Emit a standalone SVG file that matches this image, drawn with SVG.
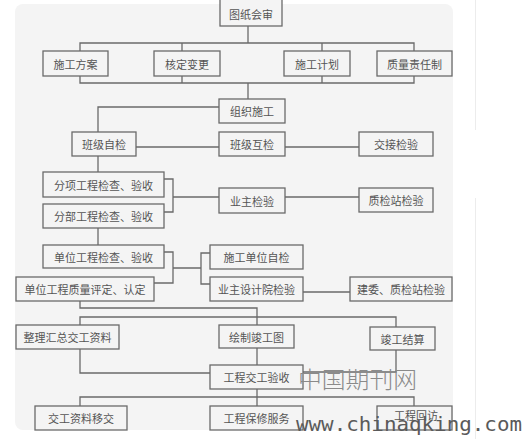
<svg xmlns="http://www.w3.org/2000/svg" width="523" height="439" viewBox="0 0 523 439">
<style>
.n rect{fill:#f4f4f4;stroke:#6a6a6a;stroke-width:1.3}
.n text{font-family:"Noto Sans CJK SC","Noto Sans",sans-serif;font-size:11px;fill:#555;text-anchor:middle;dominant-baseline:central}
#connectors path{fill:none;stroke:#6a6a6a;stroke-width:1.3}
</style>
<rect x="0" y="0" width="523" height="439" fill="#ffffff"/>
<rect x="15" y="4" width="438" height="426" rx="8" fill="#f4f4f4"/>
<line x1="475.5" y1="0" x2="475.5" y2="130" stroke="#ececec" stroke-width="1"/>
<line x1="475.5" y1="198" x2="475.5" y2="439" stroke="#ececec" stroke-width="1"/>
<g id="connectors">
<path d="M248 26V43"/>
<path d="M80 51V43H414V51M182 43V51M322 43V51"/>
<path d="M80 76V83H414V76M182 76V83M322 76V83"/>
<path d="M248 83V99"/>
<path d="M219 107H98V132"/>
<path d="M136 147H219M285 147H359"/>
<path d="M98 156V172"/>
<path d="M164 179H173V212H164M173 197H219"/>
<path d="M285 197H359"/>
<path d="M98 228V245"/>
<path d="M164 252H173V283H154M173 268H201M210 253H201V284H210"/>
<path d="M303 292H350"/>
<path d="M80 301V308H257V325"/>
<path d="M80 325V317H396V327"/>
<path d="M80 349V373H210"/>
<path d="M257 348V365"/>
<path d="M396 350V372H303"/>
<path d="M257 389V406"/>
<path d="M80 406V397H414V406"/>
</g>
<g id="n1" class="n"><rect x="220" y="-2" width="62" height="28"/><text x="251" y="14">图纸会审</text></g>
<g id="n2" class="n"><rect x="43" y="51" width="65" height="25"/><text x="75.5" y="63.5">施工方案</text></g>
<g id="n3" class="n"><rect x="154" y="51" width="66" height="25"/><text x="187" y="63.5">核定变更</text></g>
<g id="n4" class="n"><rect x="284" y="51" width="66" height="25"/><text x="317" y="63.5">施工计划</text></g>
<g id="n5" class="n"><rect x="377" y="51" width="75" height="25"/><text x="414.5" y="63.5">质量责任制</text></g>
<g id="n6" class="n"><rect x="219" y="99" width="66" height="24"/><text x="252" y="111">组织施工</text></g>
<g id="n7" class="n"><rect x="72" y="132" width="64" height="24"/><text x="104" y="144">班级自检</text></g>
<g id="n8" class="n"><rect x="219" y="132" width="66" height="24"/><text x="252" y="144">班级互检</text></g>
<g id="n9" class="n"><rect x="359" y="132" width="74" height="24"/><text x="396" y="144">交接检验</text></g>
<g id="n10" class="n"><rect x="43" y="172" width="121" height="25"/><text x="103.5" y="184.5">分项工程检查、验收</text></g>
<g id="n11" class="n"><rect x="43" y="204" width="121" height="24"/><text x="103.5" y="216">分部工程检查、验收</text></g>
<g id="n12" class="n"><rect x="219" y="188" width="66" height="25"/><text x="252" y="200.5">业主检验</text></g>
<g id="n13" class="n"><rect x="359" y="188" width="74" height="24"/><text x="396" y="200">质检站检验</text></g>
<g id="n14" class="n"><rect x="43" y="245" width="121" height="23"/><text x="103.5" y="256.5">单位工程检查、验收</text></g>
<g id="n15" class="n"><rect x="16" y="277" width="138" height="24"/><text x="85" y="289">单位工程质量评定、认定</text></g>
<g id="n16" class="n"><rect x="210" y="245" width="93" height="24"/><text x="256.5" y="257">施工单位自检</text></g>
<g id="n17" class="n"><rect x="210" y="277" width="93" height="24"/><text x="256.5" y="289">业主设计院检验</text></g>
<g id="n18" class="n"><rect x="350" y="277" width="102" height="24"/><text x="401" y="289">建委、质检站检验</text></g>
<g id="n19" class="n"><rect x="16" y="325" width="103" height="24"/><text x="67.5" y="337">整理汇总交工资料</text></g>
<g id="n20" class="n"><rect x="219" y="325" width="75" height="23"/><text x="256.5" y="336.5">绘制竣工图</text></g>
<g id="n21" class="n"><rect x="370" y="327" width="65" height="23"/><text x="402.5" y="338.5">竣工结算</text></g>
<g id="n22" class="n"><rect x="210" y="365" width="93" height="24"/><text x="256.5" y="377">工程交工验收</text></g>
<g id="n23" class="n"><rect x="35" y="406" width="92" height="24"/><text x="81" y="418">交工资料移交</text></g>
<g id="n24" class="n"><rect x="210" y="406" width="93" height="24"/><text x="256.5" y="418">工程保修服务</text></g>
<g id="n25" class="n"><rect x="377" y="406" width="75" height="24"/><text x="416" y="415">工程回访</text></g>
<text x="298" y="388" font-family="Noto Sans CJK SC,sans-serif" font-weight="300" font-size="23" fill="#8a8a8a" textLength="119" lengthAdjust="spacingAndGlyphs">中国期刊网</text>
<text x="296" y="431" font-family="DejaVu Sans Mono,monospace" font-size="20" fill="#5a5a5a" textLength="226" lengthAdjust="spacingAndGlyphs">www.chinaqking.com</text>
</svg>
